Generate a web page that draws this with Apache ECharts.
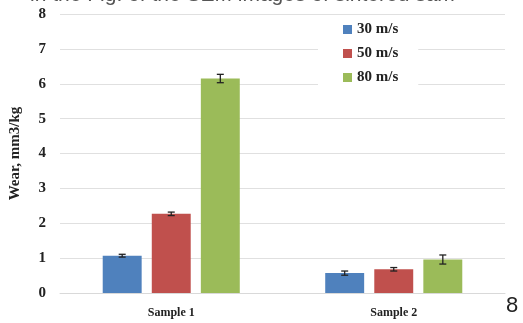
<!DOCTYPE html>
<html>
<head>
<meta charset="utf-8">
<script src="https://cdn.jsdelivr.net/npm/echarts@6/dist/echarts.min.js"></script>
<style>html,body{margin:0;padding:0;background:#fff;}#c{width:523px;height:323px;}</style>
</head>
<body>
<div id="c"></div>
<script>
var categories = ['Sample 1', 'Sample 2'];
var seriesNames = ['30 m/s', '50 m/s', '80 m/s'];
var wear30 = [1.07, 0.57];
var wear50 = [2.27, 0.68];
var wear80 = [6.15, 0.96];
var err30 = [0.04, 0.06];
var err50 = [0.05, 0.05];
var err80 = [0.12, 0.13];
var yTicks = [0, 1, 2, 3, 4, 5, 6, 7, 8];
var colors = ['#4F81BD', '#C0504D', '#9BBB59'];

var values = [wear30, wear50, wear80];
var errors = [err30, err50, err80];
var BAR_W = 0.175, BAR_GAP = 0.26;

var chart = echarts.init(document.getElementById('c'));
var series = [];
values.forEach(function (v, i) {
  series.push({
    name: seriesNames[i], type: 'bar', data: v,
    barWidth: (BAR_W * 100) + '%', barGap: (BAR_GAP * 100) + '%',
    itemStyle: { color: colors[i] }
  });
});
values.forEach(function (v, i) {
  var data = v.map(function (val, k) { return [k, val - errors[i][k], val + errors[i][k]]; });
  series.push({
    type: 'custom', data: data, z: 5, silent: true,
    renderItem: function (params, api) {
      var band = api.size([1, 0])[0];
      var bw = band * BAR_W, gap = bw * BAR_GAP;
      var off = (i - 1) * (bw + gap);
      var lo = api.coord([api.value(0), api.value(1)]);
      var hi = api.coord([api.value(0), api.value(2)]);
      var x = lo[0] + off, cap = 3.5;
      var st = { stroke: '#222', lineWidth: 1.3 };
      return { type: 'group', children: [
        { type: 'line', shape: { x1: x, y1: lo[1], x2: x, y2: hi[1] }, style: st },
        { type: 'line', shape: { x1: x - cap, y1: lo[1], x2: x + cap, y2: lo[1] }, style: st },
        { type: 'line', shape: { x1: x - cap, y1: hi[1], x2: x + cap, y2: hi[1] }, style: st }
      ]};
    }
  });
});

var serif = "'Liberation Serif', 'DejaVu Serif', serif";
chart.setOption({
  animation: false,
  backgroundColor: '#fff',
  grid: { left: 60, right: 18, top: 14, bottom: 30, containLabel: false, outerBoundsMode: 'none' },
  legend: {
    data: seriesNames, orient: 'vertical', left: 318, top: 20,
    padding: [2, 20, 2, 25], backgroundColor: '#fff',
    icon: 'rect', itemWidth: 9, itemHeight: 9, itemGap: 9,
    textStyle: { fontFamily: serif, fontWeight: 'bold', fontSize: 15, color: '#222', lineHeight: 14 }
  },
  xAxis: {
    type: 'category', data: categories,
    axisLine: { lineStyle: { color: '#d9d9d9' } }, axisTick: { show: false },
    axisLabel: { fontFamily: serif, fontWeight: 'bold', fontSize: 12, color: '#222', margin: 14 }
  },
  yAxis: {
    type: 'value', min: yTicks[0], max: yTicks[yTicks.length - 1], interval: 1,
    name: 'Wear, mm3/kg', nameLocation: 'middle', nameGap: 37, nameRotate: 90,
    nameTextStyle: { fontFamily: serif, fontWeight: 'bold', fontSize: 15, color: '#222' },
    axisLine: { show: false }, axisTick: { show: false },
    splitLine: { lineStyle: { color: '#e0e0e0' } },
    axisLabel: { fontFamily: serif, fontWeight: 'bold', fontSize: 15, color: '#222', margin: 14 }
  },
  graphic: [
    { type: 'text', left: 30, top: -15, style: { text: 'in the Fig. of the SEM images of sintered sam', fontFamily: "'Liberation Sans', Arial, sans-serif", fontSize: 21, fill: '#555' } },
    { type: 'text', left: 506, top: 295, style: { text: '8', fontFamily: "'Liberation Sans', Arial, sans-serif", fontSize: 22, fill: '#222' } }
  ],
  series: series
});
</script>
</body>
</html>
